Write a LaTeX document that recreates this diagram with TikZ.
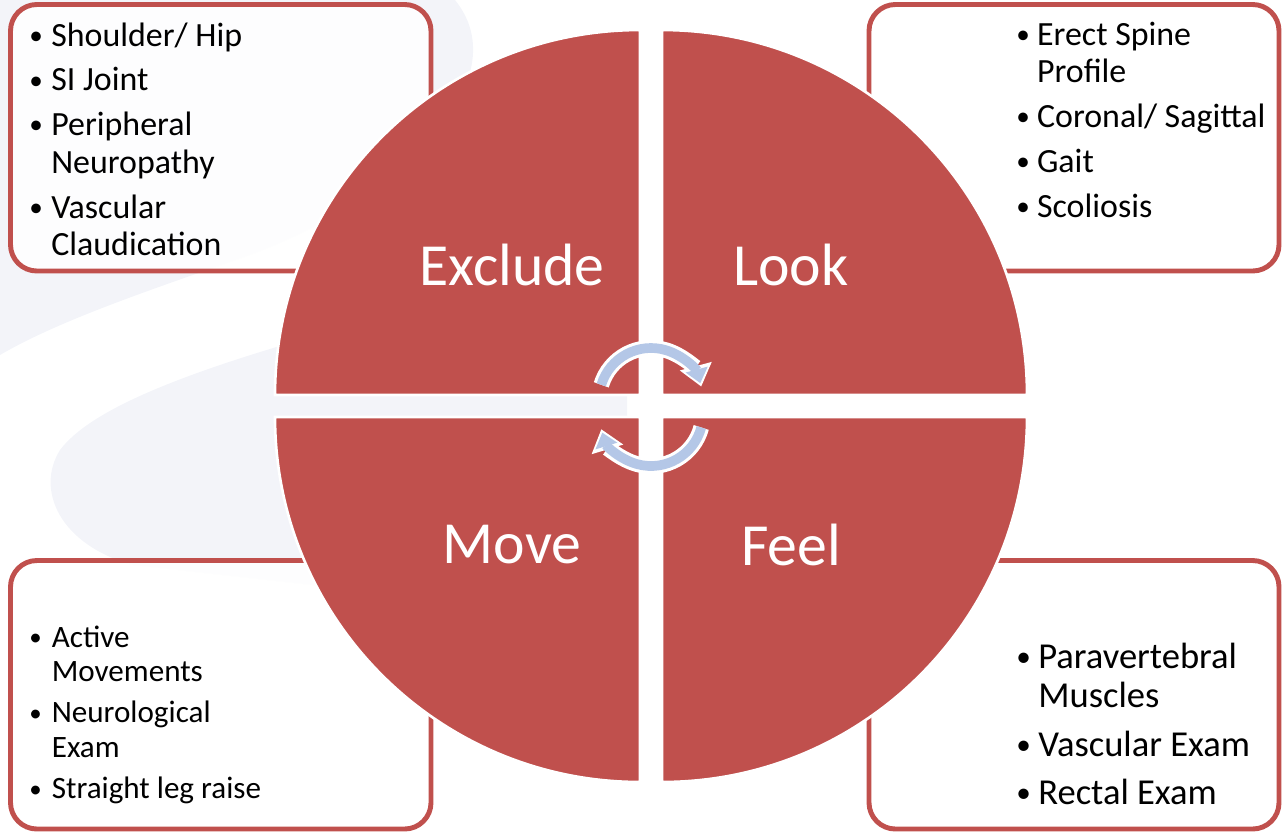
\documentclass[tikz,border=0pt]{standalone}
\usepackage{fontspec}
\setmainfont{Carlito}
\usetikzlibrary{arrows.meta}
\definecolor{brick red}{HTML}{C0504D}
\definecolor{pale blue}{HTML}{B4C7E7}
\definecolor{mist}{HTML}{F3F4F9}
\newcommand{\listdot}{\raisebox{0.1ex}{\scalebox{0.8}{\textbullet}}}

\begin{document}
\begin{tikzpicture}[x=0.02cm, y=-0.02cm,
		quarter/.style={fill=brick red, draw=white, line width=1.5pt},
		listbox/.style={draw=brick red, line width=2.8pt, fill=white, fill opacity=0.9, rounded corners=15pt},
		list text/.style={anchor=base west, inner sep=0pt, align=left},
		quarter label/.style={text=white, font=\fontsize{34}{40}\selectfont}]
	\useasboundingbox (0,0) rectangle (1283,833);
	% background swirl
	\fill[mist] (0,0) -- (455,0) .. controls (520,80) and (400,200) .. (250,255)
		.. controls (150,290) and (60,320) .. (0,355) -- cycle;
	\fill[mist] (627,330) -- (300,340) .. controls (180,375) and (90,410) .. (60,450)
		.. controls (35,490) and (60,545) .. (133,565) -- (627,620) -- cycle;
	% boxes behind the circle
	\draw[listbox] (10.5,4.5) rectangle (431,271);
	\draw[listbox] (869,4.5) rectangle (1279,271);
	\draw[listbox] (10.5,560.5) rectangle (431,829);
	\draw[listbox] (869,560.5) rectangle (1279,829);
	% the four quarters
	\foreach \cx/\cy/\a in {640/395/180, 662/395/270, 640/417/90, 662/417/0}
		\filldraw[quarter] (\cx,\cy) -- ++(\a:365) arc[start angle=\a, end angle=\a+90, radius=365] -- cycle;
	\node[quarter label] (exclude) at (512,265) {Exclude};
	\node[quarter label] (look) at (791,265) {Look};
	\node[quarter label] (move) at (512,545) {Move};
	\node[quarter label] (feel) at (791,545) {Feel};
	% turning arrows
	\draw[white, line width=9pt, -{Triangle[width=18pt, length=12pt]}]
		(651,400) ++(197:52) arc[start angle=197, end angle=345, radius=52];
	\draw[pale blue, line width=5.5pt, shorten >=2pt, -{Triangle[width=12.5pt, length=8pt]}]
		(651,400) ++(197:52) arc[start angle=197, end angle=345, radius=52];
	\draw[white, line width=9pt, -{Triangle[width=18pt, length=12pt]}]
		(651,414) ++(15:52) arc[start angle=15, end angle=163, radius=52];
	\draw[pale blue, line width=5.5pt, shorten >=2pt, -{Triangle[width=12.5pt, length=8pt]}]
		(651,414) ++(15:52) arc[start angle=15, end angle=163, radius=52];
	% lists
	\node[list text, font=\fontsize{19.3}{21.5}\selectfont] (exclude list) at (29,46)
		{\begin{tabular}[t]{@{}p{12.5pt}@{}l@{}}
			\listdot & Shoulder/ Hip\\[4pt]
			\listdot & SI Joint\\[4pt]
			\listdot & Peripheral\\
			& Neuropathy\\[4pt]
			\listdot & Vascular\\
			& Claudication
		\end{tabular}};
	\node[list text, font=\fontsize{19.3}{21.5}\selectfont] (look list) at (1016,45)
		{\begin{tabular}[t]{@{}p{11.8pt}@{}l@{}}
			\listdot & Erect Spine\\
			& Profile\\[4pt]
			\listdot & Coronal/ Sagittal\\[4pt]
			\listdot & Gait\\[4pt]
			\listdot & Scoliosis
		\end{tabular}};
	\node[list text, font=\fontsize{17.7}{19.6}\selectfont] (move list) at (29,647)
		{\begin{tabular}[t]{@{}p{12.8pt}@{}l@{}}
			\listdot & Active\\
			& Movements\\[4pt]
			\listdot & Neurological\\
			& Exam\\[4pt]
			\listdot & Straight leg raise
		\end{tabular}};
	\node[list text, font=\fontsize{20.8}{22.7}\selectfont] (feel list) at (1016,668)
		{\begin{tabular}[t]{@{}p{12.5pt}@{}l@{}}
			\listdot & Paravertebral\\
			& Muscles\\[4.8pt]
			\listdot & Vascular Exam\\[4.8pt]
			\listdot & Rectal Exam
		\end{tabular}};
\end{tikzpicture}
\end{document}
